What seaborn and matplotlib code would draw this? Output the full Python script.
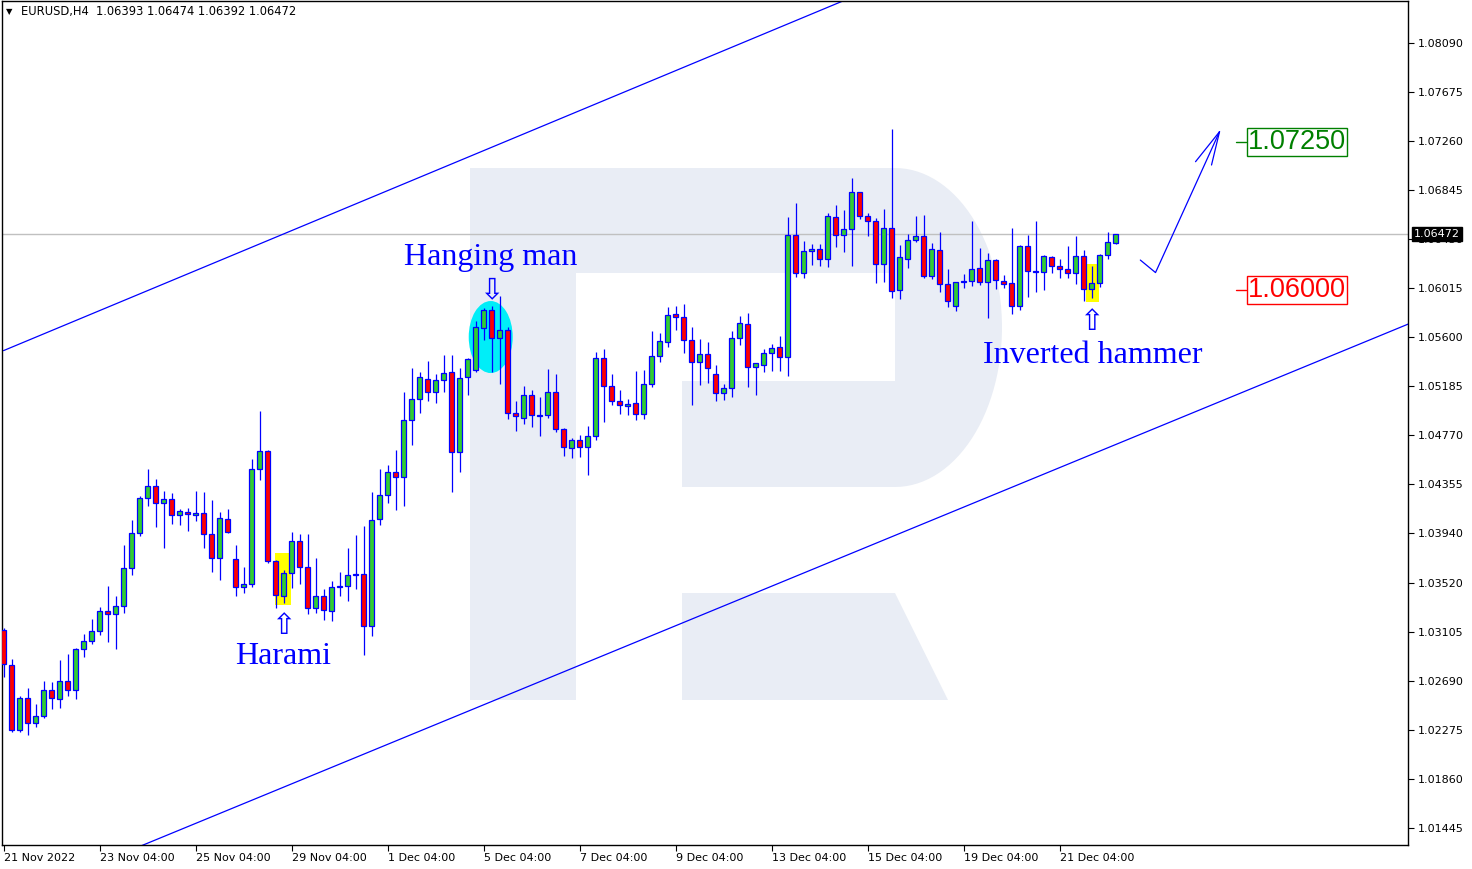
import numpy as np
import pandas as pd
import matplotlib
matplotlib.use("Agg")
import matplotlib.pyplot as plt
import matplotlib.transforms as mtransforms
from matplotlib.patches import Polygon, Rectangle, Ellipse
import seaborn as sns

# EURUSD H4 candles
opens = [1.03118, 1.02821, 1.02271, 1.02542, 1.02330, 1.02389, 1.02610, 1.02534, 1.02686, 1.02610,
         1.02957, 1.03025, 1.03109, 1.03279, 1.03253, 1.03321, 1.03643, 1.03939, 1.04236, 1.04338,
         1.04194, 1.04227, 1.04092, 1.04117, 1.04092, 1.04109, 1.03931, 1.03728, 1.04058, 1.03719,
         1.03482, 1.03508, 1.04482, 1.04634, 1.03702, 1.03406, 1.03601, 1.03872, 1.03652, 1.03304,
         1.03406, 1.03279, 1.03482, 1.03491, 1.03584, 1.03592, 1.03152, 1.04058, 1.04261, 1.04456,
         1.04414, 1.04897, 1.05075, 1.05244, 1.05134, 1.05235, 1.05303, 1.04625, 1.05261, 1.05320,
         1.05676, 1.05828, 1.05591, 1.05659, 1.04956, 1.04914, 1.05109, 1.04939, 1.04939, 1.05134,
         1.04820, 1.04659, 1.04727, 1.04668, 1.04761, 1.05422, 1.05185, 1.05058, 1.05015, 1.05041,
         1.04948, 1.05202, 1.05439, 1.05557, 1.05794, 1.05769, 1.05574, 1.05388, 1.05456, 1.05286,
         1.05126, 1.05168, 1.05591, 1.05710, 1.05345, 1.05362, 1.05464, 1.05515, 1.05430, 1.06464,
         1.06142, 1.06329, 1.06345, 1.06260, 1.06616, 1.06464, 1.06515, 1.06828, 1.06624, 1.06582,
         1.06218, 1.06523, 1.05998, 1.06260, 1.06421, 1.06455, 1.06116, 1.06336, 1.06048, 1.05862,
         1.06065, 1.06074, 1.06184, 1.06065, 1.06252, 1.06074, 1.06057, 1.05862, 1.06370, 1.06150,
         1.06150, 1.06277, 1.06201, 1.06176, 1.06142, 1.06286, 1.06006, 1.06057, 1.06294, 1.06393]
highs = [1.03135, 1.02872, 1.02559, 1.02627, 1.02491, 1.02686, 1.02677, 1.02864, 1.02915, 1.02965,
         1.03084, 1.03211, 1.03313, 1.03491, 1.03406, 1.03838, 1.04050, 1.04253, 1.04482, 1.04397,
         1.04295, 1.04278, 1.04143, 1.04151, 1.04295, 1.04287, 1.04219, 1.04117, 1.04143, 1.03838,
         1.03652, 1.04566, 1.04973, 1.04640, 1.03710, 1.03626, 1.03948, 1.03931, 1.03931, 1.03728,
         1.03465, 1.03533, 1.03609, 1.03812, 1.03922, 1.03999, 1.04287, 1.04482, 1.04515, 1.04642,
         1.05134, 1.05337, 1.05303, 1.05396, 1.05286, 1.05447, 1.05447, 1.05337, 1.05422, 1.05735,
         1.05845, 1.05862, 1.05947, 1.05684, 1.05058, 1.05185, 1.05151, 1.05092, 1.05328, 1.05286,
         1.04829, 1.04744, 1.04770, 1.04846, 1.05472, 1.05498, 1.05286, 1.05151, 1.05075, 1.05311,
         1.05320, 1.05650, 1.05633, 1.05854, 1.05862, 1.05879, 1.05684, 1.05583, 1.05557, 1.05362,
         1.05202, 1.05650, 1.05777, 1.05803, 1.05379, 1.05498, 1.05540, 1.05608, 1.06616, 1.06735,
         1.06413, 1.06387, 1.06387, 1.06650, 1.06718, 1.06676, 1.06946, 1.06830, 1.06650, 1.06608,
         1.06684, 1.07361, 1.06379, 1.06472, 1.06624, 1.06633, 1.06396, 1.06489, 1.06176, 1.06065,
         1.06133, 1.06582, 1.06353, 1.06311, 1.06260, 1.06125, 1.06523, 1.06379, 1.06464, 1.06582,
         1.06294, 1.06285, 1.06260, 1.06370, 1.06455, 1.06336, 1.06201, 1.06303, 1.06489, 1.06474]
lows = [1.02720, 1.02254, 1.02254, 1.02229, 1.02296, 1.02372, 1.02449, 1.02457, 1.02559, 1.02534,
        1.02889, 1.02999, 1.03076, 1.03016, 1.02957, 1.03262, 1.03584, 1.03914, 1.04168, 1.03990,
        1.03812, 1.04016, 1.04007, 1.03956, 1.04041, 1.03812, 1.03609, 1.03541, 1.03939, 1.03406,
        1.03431, 1.03482, 1.04388, 1.03686, 1.03304, 1.03347, 1.03474, 1.03508, 1.03253, 1.03262,
        1.03203, 1.03194, 1.03406, 1.03364, 1.03465, 1.02906, 1.03067, 1.04007, 1.04194, 1.04134,
        1.04168, 1.04685, 1.04956, 1.05058, 1.05041, 1.05134, 1.04287, 1.04456, 1.05109, 1.05303,
        1.05574, 1.05303, 1.05202, 1.04905, 1.04803, 1.04863, 1.04837, 1.04761, 1.04914, 1.04795,
        1.04592, 1.04575, 1.04583, 1.04431, 1.04727, 1.04880, 1.05024, 1.04948, 1.04939, 1.04897,
        1.04905, 1.05176, 1.05388, 1.05515, 1.05659, 1.05464, 1.05024, 1.05193, 1.05210, 1.05058,
        1.05066, 1.05092, 1.05532, 1.05176, 1.05109, 1.05303, 1.05311, 1.05311, 1.05269, 1.06108,
        1.06099, 1.06209, 1.06201, 1.06193, 1.06362, 1.06320, 1.06201, 1.06599, 1.06455, 1.06057,
        1.06065, 1.05930, 1.05922, 1.06184, 1.06404, 1.06099, 1.06091, 1.05981, 1.05854, 1.05820,
        1.06015, 1.06032, 1.06040, 1.05760, 1.06006, 1.06015, 1.05794, 1.05828, 1.05939, 1.05981,
        1.05998, 1.06142, 1.06099, 1.06099, 1.06048, 1.05905, 1.05930, 1.06023, 1.06260, 1.06392]
closes = [1.02830, 1.02271, 1.02542, 1.02330, 1.02389, 1.02610, 1.02542, 1.02686, 1.02610, 1.02957,
          1.03025, 1.03109, 1.03279, 1.03253, 1.03321, 1.03643, 1.03939, 1.04236, 1.04338, 1.04194,
          1.04227, 1.04092, 1.04126, 1.04100, 1.04109, 1.03931, 1.03728, 1.04067, 1.03948, 1.03482,
          1.03508, 1.04482, 1.04634, 1.03702, 1.03414, 1.03601, 1.03872, 1.03652, 1.03304, 1.03406,
          1.03287, 1.03482, 1.03491, 1.03584, 1.03592, 1.03152, 1.04050, 1.04261, 1.04456, 1.04414,
          1.04897, 1.05075, 1.05261, 1.05134, 1.05235, 1.05295, 1.04625, 1.05252, 1.05413, 1.05684,
          1.05828, 1.05591, 1.05659, 1.04956, 1.04931, 1.05109, 1.04939, 1.04931, 1.05134, 1.04820,
          1.04668, 1.04727, 1.04668, 1.04761, 1.05422, 1.05185, 1.05058, 1.05024, 1.05032, 1.04948,
          1.05202, 1.05439, 1.05566, 1.05786, 1.05769, 1.05574, 1.05388, 1.05456, 1.05337, 1.05126,
          1.05168, 1.05591, 1.05718, 1.05345, 1.05379, 1.05464, 1.05506, 1.05430, 1.06464, 1.06142,
          1.06329, 1.06345, 1.06260, 1.06624, 1.06464, 1.06515, 1.06828, 1.06624, 1.06582, 1.06218,
          1.06523, 1.05989, 1.06277, 1.06421, 1.06455, 1.06116, 1.06345, 1.06048, 1.05905, 1.06065,
          1.06074, 1.06176, 1.06065, 1.06252, 1.06082, 1.06048, 1.05862, 1.06370, 1.06159, 1.06159,
          1.06286, 1.06201, 1.06176, 1.06142, 1.06286, 1.06006, 1.06057, 1.06294, 1.06404, 1.06472]

time_labels = ["21 Nov 2022", "23 Nov 04:00", "25 Nov 04:00", "29 Nov 04:00", "1 Dec 04:00",
               "5 Dec 04:00", "7 Dec 04:00", "9 Dec 04:00", "13 Dec 04:00", "15 Dec 04:00",
               "19 Dec 04:00", "21 Dec 04:00"]
price_ticks = [1.08090, 1.07675, 1.07260, 1.06845, 1.06430, 1.06015, 1.05600, 1.05185, 1.04770,
               1.04355, 1.03940, 1.03520, 1.03105, 1.02690, 1.02275, 1.01860, 1.01445]

# trend channel (bar index, price)
channel_x = [0, 180]
channel_upper = [1.05485, 1.10565]
channel_lower = [1.00811, 1.05833]

# forecast path and arrow head
forecast_x = [142.1, 144.0, 152.0]
forecast_y = [1.06252, 1.06146, 1.07339]
head_x = [149.0, 151.0]
head_y = [1.07085, 1.07057]

last_price = 1.06472
target_up = 1.07250
target_down = 1.06000

BLUE = "#0000ff"
W, H = 1472, 869

sns.set_theme(style="white")
plt.rcParams["font.family"] = ["DejaVu Sans"]

fig = plt.figure(figsize=(W / 100, H / 100), dpi=100)
ax = fig.add_axes([2 / W, 1 - 845 / H, 1406 / W, 844 / H])
ax.set_facecolor("white")
ax.set_xlim(-0.19, 175.56)
ax.set_ylim(1.01298, 1.08446)

# --- watermark "R" (figure pixels) ---
def fig_pts(pts):
    return [(x / W, 1 - y / H) for x, y in pts]

wm = "#e9edf5"
t = np.linspace(-np.pi / 2, np.pi / 2, 60)
bowl = [(895, 168)] + list(zip(895 + 107 * np.cos(t), 327.5 + 159.5 * np.sin(t))) + [(895, 487)]
shapes = [
    [(470, 168), (576, 168), (576, 700), (470, 700)],
    [(470, 168), (895, 168), (895, 273), (470, 273)],
    [(682, 381), (896, 381), (896, 487), (682, 487)],
    bowl,
    [(682, 593), (895, 593), (948, 700), (682, 700)],
]
for s in shapes:
    ax.add_patch(Polygon(fig_pts(s), closed=True, transform=fig.transFigure,
                         facecolor=wm, edgecolor="none", zorder=0))

# --- pattern highlights ---
ax.add_patch(Ellipse((60.9, 1.05600), 5.5, 0.0061, facecolor="#00eef8", edgecolor="none", zorder=1))
ax.add_patch(Rectangle((33.94, 1.03330), 2.0, 0.00440, facecolor="#ffff00", edgecolor="none", zorder=1))
ax.add_patch(Rectangle((135.27, 1.05896), 1.7, 0.00322, facecolor="#ffff00", edgecolor="none", zorder=1))

# current price line
ax.axhline(last_price, color="#c0c0c0", lw=1, zorder=1)

# --- candles ---
df = pd.DataFrame({"open": opens, "high": highs, "low": lows, "close": closes})
df["idx"] = np.arange(len(df))
up = df["close"] >= df["open"]
body_lo = np.minimum(df["open"], df["close"])
body_h = np.maximum((df["close"] - df["open"]).abs(), 0.00003)
ax.vlines(df["idx"], df["low"], df["high"], color=BLUE, lw=0.9, zorder=3)
ax.bar(df["idx"], body_h, bottom=body_lo, width=0.55,
       color=np.where(up, "#32cd32", "#ff0000"), edgecolor=BLUE, linewidth=0.9, zorder=4)

# --- channel and forecast ---
sns.lineplot(x=channel_x, y=channel_upper, color=BLUE, lw=0.9, ax=ax, zorder=2)
sns.lineplot(x=channel_x, y=channel_lower, color=BLUE, lw=0.9, ax=ax, zorder=2)
ax.plot(forecast_x, forecast_y, color=BLUE, lw=0.9, zorder=5)
for hx, hy in zip(head_x, head_y):
    ax.plot([forecast_x[-1], hx], [forecast_y[-1], hy], color=BLUE, lw=0.9, zorder=5)

# --- target levels ---
for lvl, col in [(target_up, "#008000"), (target_down, "#ff0000")]:
    ax.plot([154.1, 155.3], [lvl, lvl], color=col, lw=1, zorder=5)
    ax.text(155.55, lvl, f"{lvl:.5f}", color=col, fontsize=19.5, family=["Liberation Sans"],
            ha="left", va="center", zorder=6,
            bbox=dict(facecolor="white", edgecolor=col, lw=1, pad=0.8))

# --- pattern labels ---
serif = ["Liberation Serif", "DejaVu Serif"]
ax.text(60.9, 1.06272, "Hanging man", color=BLUE, fontsize=23, family=serif, ha="center", va="center", zorder=6)
ax.text(34.9, 1.02895, "Harami", color=BLUE, fontsize=23, family=serif, ha="center", va="center", zorder=6)
ax.text(136.1, 1.05440, "Inverted hammer", color=BLUE, fontsize=23, family=serif, ha="center", va="center", zorder=6)
ax.text(60.9, 1.05995, "\u21e9", color=BLUE, fontsize=21, ha="center", va="center", zorder=6)
ax.text(34.9, 1.03150, "\u21e7", color=BLUE, fontsize=21, ha="center", va="center", zorder=6)
ax.text(135.9, 1.05725, "\u21e7", color=BLUE, fontsize=21, ha="center", va="center", zorder=6)

# --- axes styling ---
for sp in ax.spines.values():
    sp.set_color("black")
    sp.set_linewidth(1)
ax.yaxis.tick_right()
ax.set_yticks(price_ticks)
ax.set_yticklabels([f"{p:.5f}" for p in price_ticks])
ax.set_xticks(range(0, 12 * len(time_labels), 12))
ax.set_xticklabels(time_labels, ha="left")
ax.tick_params(axis="y", which="both", right=True, left=False, direction="out", length=4,
               width=0.8, pad=3, labelsize=8, colors="black")
ax.tick_params(axis="x", which="both", bottom=True, direction="out", length=4,
               width=0.8, pad=2, labelsize=8, colors="black")
ax.set_xlabel("")
ax.set_ylabel("")
ax.grid(False)

# last price tag on the axis (covers the 1.06430 tick label, as in the terminal)
trans = mtransforms.blended_transform_factory(ax.transAxes, ax.transData)
ax.text(1.0043, last_price, f"{last_price:.5f}", transform=trans, color="white", fontsize=8,
        ha="left", va="center", clip_on=False, zorder=10,
        bbox=dict(facecolor="black", edgecolor="black", pad=1.2))

# header
fig.text(6 / W, 1 - 12 / H, "\u25bc", fontsize=6, va="center", ha="left", color="black")
fig.text(21 / W, 1 - 12 / H, "EURUSD,H4  1.06393 1.06474 1.06392 1.06472", fontsize=8.3,
         va="center", ha="left", color="black")

fig.savefig("out.png", dpi=100)
